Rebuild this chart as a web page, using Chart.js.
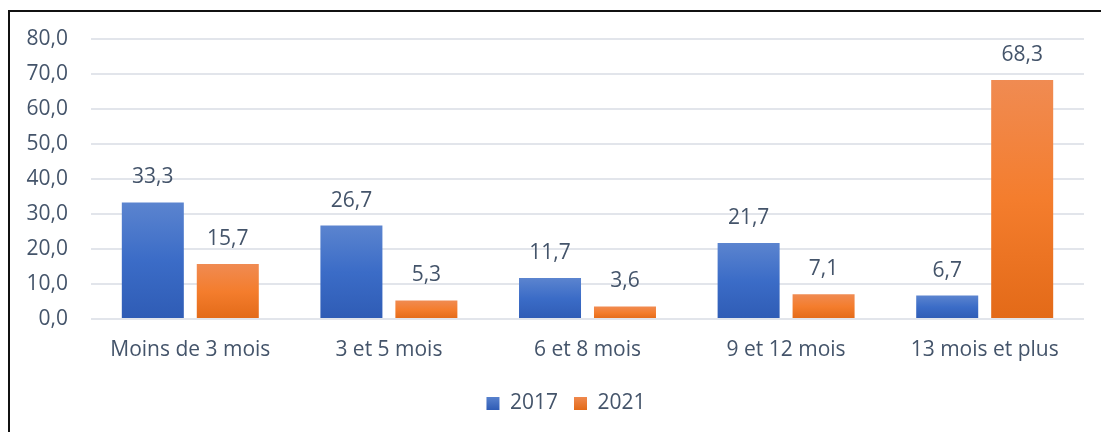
<!DOCTYPE html>
<html>
<head>
<meta charset="utf-8">
<script src="https://cdn.jsdelivr.net/npm/chart.js@4.4.0/dist/chart.umd.min.js"></script>
<style>
    body { margin: 0; background: #fff; }
    #wrap { position: relative; width: 1101px; height: 432px; }
    #frame {
        position: absolute; left: 8px; top: 10px; right: -5px; bottom: -5px;
        border-left: 2px solid #111; border-top: 2px solid #111;
        pointer-events: none;
    }
</style>
</head>
<body>
<div id="wrap">
    <canvas id="chart" width="1101" height="432"></canvas>
    <div id="frame"></div>
</div>
<script>
// Chart data
const categories = ['Moins de 3 mois', '3 et 5 mois', '6 et 8 mois', '9 et 12 mois', '13 mois et plus'];
const values2017 = [33.3, 26.7, 11.7, 21.7, 6.7];
const values2021 = [15.7, 5.3, 3.6, 7.1, 68.3];
const yTicks = [0, 10, 20, 30, 40, 50, 60, 70, 80];

const textColor = '#44546a';
const fontFamily = '"Open Sans", "Noto Sans", sans-serif';
const fontSize = 21;

// Gradient stops (top, middle, bottom)
const blueStops = ['#5b84cf', '#3b6cc7', '#2f5cb5'];
const orangeStops = ['#f08b52', '#f47d2d', '#e36a18'];

function fmt(v) {
    return v.toFixed(1).replace('.', ',');
}

// Builds a vertical gradient for each bar, relative to its own height
function barGradient(stops) {
    return function(context) {
        const chart = context.chart;
        const y = chart.scales && chart.scales.y;
        if (!chart.chartArea || !y || context.parsed === undefined) {
            return stops[1];
        }
        const top = y.getPixelForValue(context.parsed.y);
        const bottom = y.getPixelForValue(0);
        if (!isFinite(top) || bottom - top < 1) return stops[1];
        const g = chart.ctx.createLinearGradient(0, top, 0, bottom);
        g.addColorStop(0, stops[0]);
        g.addColorStop(0.5, stops[1]);
        g.addColorStop(1, stops[2]);
        return g;
    };
}

// Value labels above bars
const valueLabels = {
    id: 'valueLabels',
    afterDatasetsDraw(chart) {
        const ctx = chart.ctx;
        ctx.save();
        ctx.fillStyle = textColor;
        ctx.font = fontSize + 'px ' + fontFamily;
        ctx.textAlign = 'center';
        ctx.textBaseline = 'middle';
        chart.data.datasets.forEach((ds, i) => {
            chart.getDatasetMeta(i).data.forEach((bar, j) => {
                ctx.fillText(fmt(ds.data[j]), bar.x, bar.y - 25);
            });
        });
        ctx.restore();
    }
};

// Nudge the legend to the right, centred like the original frame
const legendShift = {
    id: 'legendShift',
    afterLayout(chart) {
        if (chart.legend) {
            chart.legend.left += 24;
            chart.legend.right += 24;
        }
    }
};

new Chart(document.getElementById('chart').getContext('2d'), {
    type: 'bar',
    data: {
        labels: categories,
        datasets: [
            {
                label: '2017',
                data: values2017,
                backgroundColor: barGradient(blueStops),
                categoryPercentage: 0.755,
                barPercentage: 0.827
            },
            {
                label: '2021',
                data: values2021,
                backgroundColor: barGradient(orangeStops),
                categoryPercentage: 0.755,
                barPercentage: 0.827
            }
        ]
    },
    options: {
        responsive: false,
        animation: false,
        layout: {
            padding: { top: 39, left: 0, right: 17, bottom: 8 }
        },
        scales: {
            x: {
                grid: { display: false },
                border: { display: false },
                ticks: {
                    color: textColor,
                    font: { family: fontFamily, size: fontSize },
                    padding: 10,
                    maxRotation: 0
                },
                afterFit(scale) { scale.height = 58; }
            },
            y: {
                min: 0,
                max: 80,
                afterBuildTicks(scale) {
                    scale.ticks = yTicks.map(v => ({ value: v }));
                },
                grid: { color: '#e2e5eb', lineWidth: 2, drawTicks: false },
                border: { display: false },
                ticks: {
                    color: textColor,
                    font: { family: fontFamily, size: fontSize },
                    padding: 23,
                    callback: v => fmt(v)
                },
                afterFit(scale) { scale.width = 91; }
            }
        },
        plugins: {
            legend: {
                position: 'bottom',
                labels: {
                    color: textColor,
                    font: { family: fontFamily, size: fontSize },
                    boxWidth: 13,
                    boxHeight: 13,
                    padding: 16,
                    generateLabels(chart) {
                        const stops = [blueStops, orangeStops];
                        return chart.data.datasets.map((ds, i) => {
                            const g = chart.ctx.createLinearGradient(0, 396, 0, 410);
                            g.addColorStop(0, stops[i][0]);
                            g.addColorStop(1, stops[i][2]);
                            return {
                                text: ds.label,
                                fillStyle: g,
                                strokeStyle: 'rgba(0,0,0,0)',
                                lineWidth: 0,
                                fontColor: textColor,
                                datasetIndex: i,
                                hidden: false
                            };
                        });
                    }
                }
            },
            tooltip: { enabled: false }
        }
    },
    plugins: [valueLabels, legendShift]
});
</script>
</body>
</html>
